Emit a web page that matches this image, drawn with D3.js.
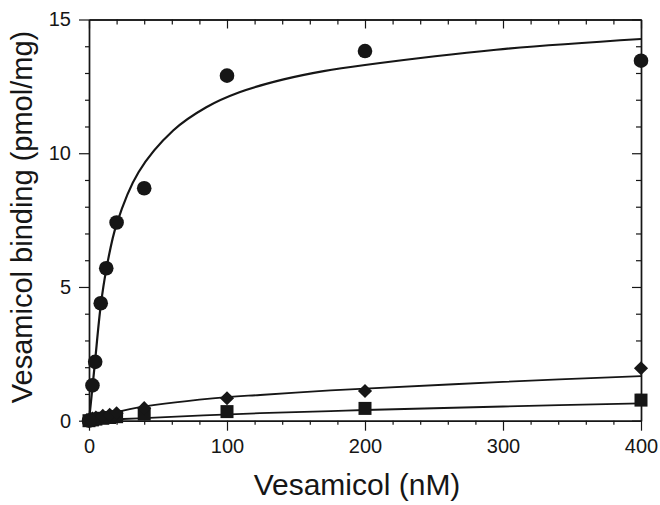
<!DOCTYPE html>
<html>
<head>
<meta charset="utf-8">
<script src="https://cdn.jsdelivr.net/npm/d3@7"></script>
<style>
  body { margin: 0; background: #fff; }
  svg { display: block; font-family: "Liberation Sans", Arial, sans-serif; }
</style>
</head>
<body>
<div id="chart"></div>
<script>
// Measured points (vesamicol nM -> binding pmol/mg)
const circleX = [0, 2.5, 4.5, 8.5, 12.5, 20, 40, 100, 200, 400];
const circleY = [0, 1.32, 2.2, 4.39, 5.70, 7.41, 8.69, 12.9, 13.82, 13.46];

const diamondX = [0, 2.5, 5, 10, 15, 20, 40, 100, 200, 400];
const diamondY = [0.02, 0.08, 0.12, 0.18, 0.22, 0.28, 0.47, 0.84, 1.11, 1.96];

const squareX = [0, 2.5, 5, 10, 15, 20, 40, 100, 200, 400];
const squareY = [0, 0.03, 0.06, 0.09, 0.12, 0.15, 0.25, 0.34, 0.46, 0.77];

// Fitted curves
const circleFitX = [0, 2.2, 4.35, 8.5, 12.5, 20, 36, 61, 85, 109, 141, 170, 200, 295, 400];
const circleFitY = [0, 1.1, 2.2, 4.3, 5.65, 7.35, 9.3, 10.85, 11.72, 12.28, 12.76, 13.07, 13.3, 13.87, 14.27];

const diamondFitX = [0, 10, 20, 36, 100, 124, 175, 200, 300, 400];
const diamondFitY = [0, 0.18, 0.32, 0.5, 0.88, 0.96, 1.13, 1.2, 1.45, 1.67];

const squareFitX = [0, 36, 124, 175, 200, 300, 400];
const squareFitY = [0, 0.09, 0.28, 0.36, 0.4, 0.53, 0.65];

// Axis ticks
const xMajor = [0, 100, 200, 300, 400];
const xMinor = [20, 40, 60, 80, 120, 140, 160, 180, 220, 240, 260, 280, 320, 340, 360, 380];
const yMajor = [0, 5, 10, 15];
const yMinor = [1, 2, 3, 4, 6, 7, 8, 9, 11, 12, 13, 14];

const W = 660, H = 505;
const margin = {top: 19.5, right: 19, bottom: 84.3, left: 89};
const width = W - margin.left - margin.right,
  height = H - margin.top - margin.bottom;
const ink = "#161616";

const svg = d3.select("#chart")
  .append("svg")
    .attr("width", W)
    .attr("height", H);
const g = svg.append("g")
  .attr("transform", `translate(${margin.left},${margin.top})`);

const x = d3.scaleLinear().domain([0, 400]).range([0, width]);
const y = d3.scaleLinear().domain([0, 15]).range([height, 0]);

function styleAxis(sel) {
  sel.select(".domain").attr("stroke", ink).attr("stroke-width", 1.4);
  sel.selectAll(".tick line").attr("stroke", ink).attr("stroke-width", 1.2);
  sel.selectAll("text").attr("fill", ink).style("font-size", "20px");
}

// bottom (outward)
g.append("g")
  .attr("transform", `translate(0,${height})`)
  .call(d3.axisBottom(x).tickValues(xMinor).tickSize(4).tickFormat("").tickSizeOuter(0))
  .call(styleAxis);
g.append("g")
  .attr("transform", `translate(0,${height})`)
  .call(d3.axisBottom(x).tickValues(xMajor).tickSize(10).tickPadding(8).tickFormat(d3.format("d")).tickSizeOuter(0))
  .call(styleAxis);

// left (outward)
g.append("g")
  .call(d3.axisLeft(y).tickValues(yMinor).tickSize(4).tickFormat("").tickSizeOuter(0))
  .call(styleAxis);
g.append("g")
  .call(d3.axisLeft(y).tickValues(yMajor).tickSize(10).tickPadding(8).tickFormat(d3.format("d")).tickSizeOuter(0))
  .call(styleAxis);

// top (inward)
g.append("g")
  .call(d3.axisTop(x).tickValues(xMinor).tickSize(-5).tickFormat("").tickSizeOuter(0))
  .call(styleAxis);
g.append("g")
  .call(d3.axisTop(x).tickValues(xMajor).tickSize(-9).tickFormat("").tickSizeOuter(0))
  .call(styleAxis);

// right (inward)
g.append("g")
  .attr("transform", `translate(${width},0)`)
  .call(d3.axisRight(y).tickValues(yMinor).tickSize(-5).tickFormat("").tickSizeOuter(0))
  .call(styleAxis);
g.append("g")
  .attr("transform", `translate(${width},0)`)
  .call(d3.axisRight(y).tickValues(yMajor).tickSize(-9).tickFormat("").tickSizeOuter(0))
  .call(styleAxis);

// fitted lines
const line = d3.line()
  .x(d => x(d[0]))
  .y(d => y(d[1]))
  .curve(d3.curveCatmullRom.alpha(0.5));

const fits = [
  {xs: circleFitX, ys: circleFitY, w: 2.2},
  {xs: diamondFitX, ys: diamondFitY, w: 1.8},
  {xs: squareFitX, ys: squareFitY, w: 1.8}
];
fits.forEach(function(f) {
  g.append("path")
    .datum(f.xs.map((v, i) => [v, f.ys[i]]))
    .attr("d", line)
    .attr("fill", "none")
    .attr("stroke", ink)
    .attr("stroke-width", f.w);
});

// markers
g.selectAll(".sq")
  .data(squareX.map((v, i) => [v, squareY[i]]))
  .join("rect")
    .attr("class", "sq")
    .attr("x", d => x(d[0]) - 6.5)
    .attr("y", d => y(d[1]) - 6.5)
    .attr("width", 13)
    .attr("height", 13)
    .attr("fill", ink);

g.selectAll(".dm")
  .data(diamondX.map((v, i) => [v, diamondY[i]]))
  .join("path")
    .attr("class", "dm")
    .attr("d", d3.symbol(d3.symbolSquare, 100))
    .attr("transform", d => `translate(${x(d[0])},${y(d[1])}) rotate(45)`)
    .attr("fill", ink);

g.selectAll(".ci")
  .data(circleX.map((v, i) => [v, circleY[i]]))
  .join("circle")
    .attr("class", "ci")
    .attr("cx", d => x(d[0]))
    .attr("cy", d => y(d[1]))
    .attr("r", 7.3)
    .attr("fill", ink);

// axis titles
svg.append("text")
  .attr("x", margin.left + width / 2 - 8)
  .attr("y", 495)
  .attr("text-anchor", "middle")
  .attr("fill", ink)
  .style("font-size", "30px")
  .text("Vesamicol (nM)");

svg.append("text")
  .attr("transform", "translate(32,217) rotate(-90)")
  .attr("text-anchor", "middle")
  .attr("fill", ink)
  .style("font-size", "29px")
  .text("Vesamicol binding (pmol/mg)");
</script>
</body>
</html>
